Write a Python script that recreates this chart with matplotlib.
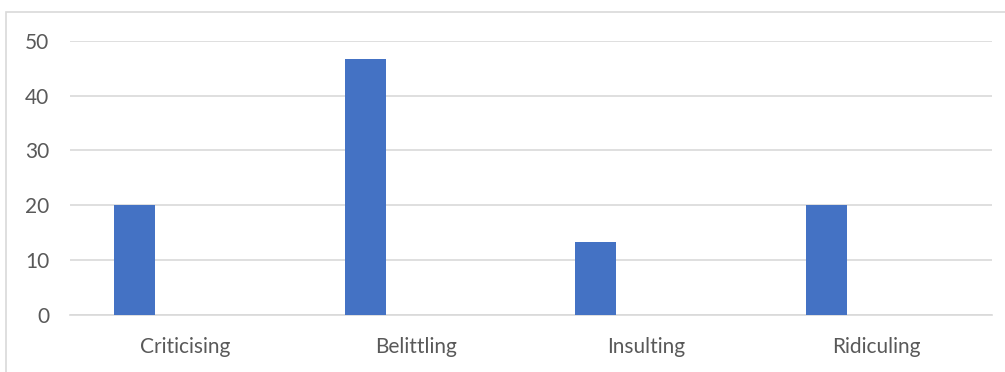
import numpy as np
import matplotlib.pyplot as plt
from matplotlib.patches import Rectangle

categories = ['Criticising', 'Belittling', 'Insulting', 'Ridiculing']
values = [20, 46.67, 13.33, 20]

W, H = 1005, 372
fig = plt.figure(figsize=(W / 100, H / 100), dpi=100)
plt.rcParams['font.family'] = ['Lato', 'DejaVu Sans']

# chart border (only left and top visible in the crop)
fig.patches.append(Rectangle((6 / W, -0.2), 1.2, 1 - 12 / H + 0.2, transform=fig.transFigure,
                             fill=False, edgecolor='#d9d9d9', lw=1.2))

ax = fig.add_axes([70 / W, 1 - 315 / H, (992 - 70) / W, (315 - 40.7) / H])
x = np.arange(len(categories))
ax.bar(x - 0.22, values, width=0.178, color='#4472c4', zorder=3)

ax.set_xlim(-0.5, len(categories) - 0.5)
ax.set_ylim(0, 50)
ax.set_yticks(np.arange(0, 51, 10))
ax.set_xticks(x)
ax.set_xticklabels(categories)
ax.grid(axis='y', color='#d9d9d9', lw=1.2, zorder=0)
for s in ['top', 'right', 'left']:
    ax.spines[s].set_visible(False)
ax.spines['bottom'].set_color('#d9d9d9')
ax.spines['bottom'].set_linewidth(1.2)
ax.tick_params(axis='y', length=0, pad=15, labelsize=15, labelcolor='#595959')
ax.tick_params(axis='x', length=0, pad=16, labelsize=15, labelcolor='#595959')

fig.savefig('out.png', dpi=100)
